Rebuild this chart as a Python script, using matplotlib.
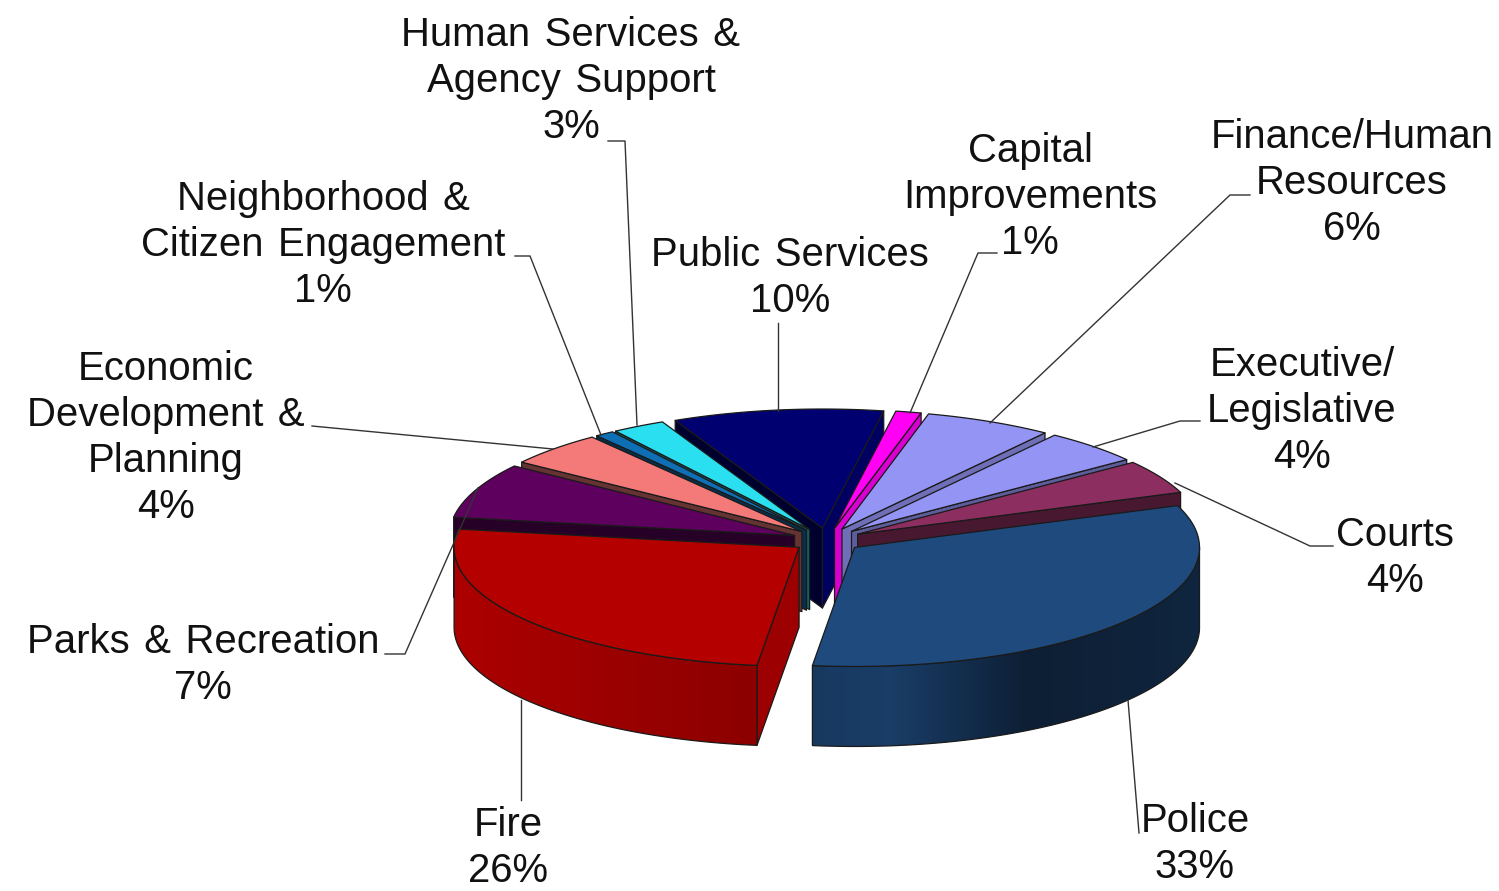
#!/usr/bin/env python3
"""Exploded 3D-look budget pie, drawn as flat polygons in pixel space."""
import matplotlib
matplotlib.use("Agg")
import matplotlib.pyplot as plt
import numpy as np
from matplotlib.patches import Polygon

# ---------------------------------------------------------------------------
# Data
# ---------------------------------------------------------------------------
names = ["Police", "Fire", "Parks & Recreation",
         "Economic\nDevelopment &\nPlanning",
         "Neighborhood &\nCitizen Engagement",
         "Human Services &\nAgency Support", "Public Services",
         "Capital\nImprovements", "Finance/Human\nResources",
         "Executive/\nLegislative", "Courts"]
pct_labels = ["33%", "26%", "7%", "4%", "1%", "3%", "10%", "1%", "6%", "4%", "4%"]
# slice sizes (the printed labels are rounded)
shares = [32.8, 25.6, 7.5, 4.7, 0.9, 2.5, 9.9, 1.2, 6.0, 4.7, 4.6]
colors = ["#1F4A7D", "#B50000", "#5E005E", "#F47A7A", "#0F6FB5", "#2ADFEF",
          "#000070", "#FF00F5", "#9494F5", "#9494F5", "#8C2F60"]

# ---------------------------------------------------------------------------
# Layout (pixels)
# ---------------------------------------------------------------------------
CX, CY = 827, 540
RX, RY = 345, 119
DEPTH = 80
EXPLODE = 35
START_DEG = 20.6

label_xy = [(1195, 844), (508, 848), (203, 665), (166, 438), (323, 245),
            (571, 81), (790, 278), (1030, 197), (1352, 183), (1302, 411),
            (1395, 558)]
leaders = [
    [(1139, 833), (1128, 700)],
    [(521, 800), (521, 700)],
    [(385, 654), (405, 654), (478, 488)],
    [(312, 426), (553, 449)],
    [(515, 256), (530, 256), (601, 435)],
    [(608, 141), (625, 141), (637, 425)],
    [(778, 323), (778, 411)],
    [(997, 253), (978, 253), (910, 413)],
    [(1250, 195), (1230, 195), (990, 423)],
    [(1200, 421), (1180, 421), (1093, 447)],
    [(1333, 546), (1310, 546), (1175, 483)],
]


def shade(color, k):
    rgb = np.array(matplotlib.colors.to_rgb(color))
    return tuple(rgb * k)


def wall_shade(normal_deg):
    c = max(0.0, np.cos(np.radians(normal_deg)))
    return 0.42 + 0.45 * c ** 1.5


def rim_shade(x_frac):
    return np.interp(x_frac, [-1, -0.1, 0.1, 0.5, 1], [0.95, 0.77, 0.83, 0.42, 0.5])


def main() -> None:
    plt.rcParams["font.family"] = ["Liberation Sans", "DejaVu Sans"]
    fig = plt.figure(figsize=(14.99, 8.91), dpi=100)
    ax = fig.add_axes([0, 0, 1, 1])

    sweep = np.array(shares) / sum(shares) * 360.0
    hi = START_DEG - np.concatenate([[0], np.cumsum(sweep)[:-1]])
    lo = hi - sweep
    mid = (hi + lo) / 2

    # back slices first, front slices last
    order = np.argsort(-np.sin(np.radians(mid)))
    edge = dict(edgecolor="#1a1a1a", linewidth=0.9, joinstyle="round")

    for z, i in enumerate(order):
        m = np.radians(mid[i])
        ax_x = CX + EXPLODE * np.cos(m)
        ax_y = CY - EXPLODE * RY / RX * np.sin(m)
        col = colors[i]

        def rim(a_deg):
            a = np.radians(a_deg)
            return ax_x + RX * np.cos(a), ax_y - RY * np.sin(a)

        # radial walls, only those turned towards the viewer
        for ang, normal in ((hi[i], hi[i] + 90), (lo[i], lo[i] - 90)):
            if np.sin(np.radians(normal)) < 0:
                px, py = rim(ang)
                ax.fill([ax_x, px, px, ax_x],
                        [ax_y, py, py + DEPTH, ax_y + DEPTH],
                        facecolor=shade(col, wall_shade(normal)),
                        zorder=10 + z, **edge)

        # outer rim: horizontal gradient image clipped to the rim outline
        angs = np.linspace(lo[i], hi[i], max(8, int(sweep[i] * 2)))
        angs = angs[np.sin(np.radians(angs)) < 0.0]
        if len(angs) > 1:
            xs, ys = rim(angs)
            outline = np.c_[np.r_[xs, xs[::-1]], np.r_[ys, ys[::-1] + DEPTH]]
            x0, x1 = xs.min(), xs.max()
            grad_x = np.linspace(x0, x1, 256)
            grad = np.array([shade(col, rim_shade((g - ax_x) / RX)) for g in grad_x])
            im = ax.imshow(grad[np.newaxis, :, :], aspect="auto",
                           extent=(x0, x1, ys.max() + DEPTH, ys.min()),
                           interpolation="bilinear", zorder=10 + z)
            patch = Polygon(outline, closed=True, facecolor="none",
                            edgecolor="#1a1a1a", linewidth=0.9, zorder=10 + z)
            ax.add_patch(patch)
            im.set_clip_path(patch)

        # top face
        tt = np.linspace(lo[i], hi[i], max(8, int(sweep[i] * 2)))
        xs, ys = rim(tt)
        ax.fill(np.r_[ax_x, xs], np.r_[ax_y, ys], facecolor=col,
                zorder=10 + z, **edge)

    for pts in leaders:
        xs, ys = zip(*pts)
        ax.plot(xs, ys, color="#333333", lw=1.0, zorder=50)

    for name, pct, (x, y) in zip(names, pct_labels, label_xy):
        # the reference sets its words a little further apart
        txt = f"{name}\n{pct}".replace(" ", " \u200a")
        ax.text(x, y, txt, ha="center", va="center", ma="center",
                fontsize=28.9, linespacing=1.27, color="#111111", zorder=60)

    ax.set_xlim(0, 1499)
    ax.set_ylim(891, 0)
    ax.axis("off")
    fig.savefig("out.png", dpi=100)
    plt.close(fig)


if __name__ == "__main__":
    main()
